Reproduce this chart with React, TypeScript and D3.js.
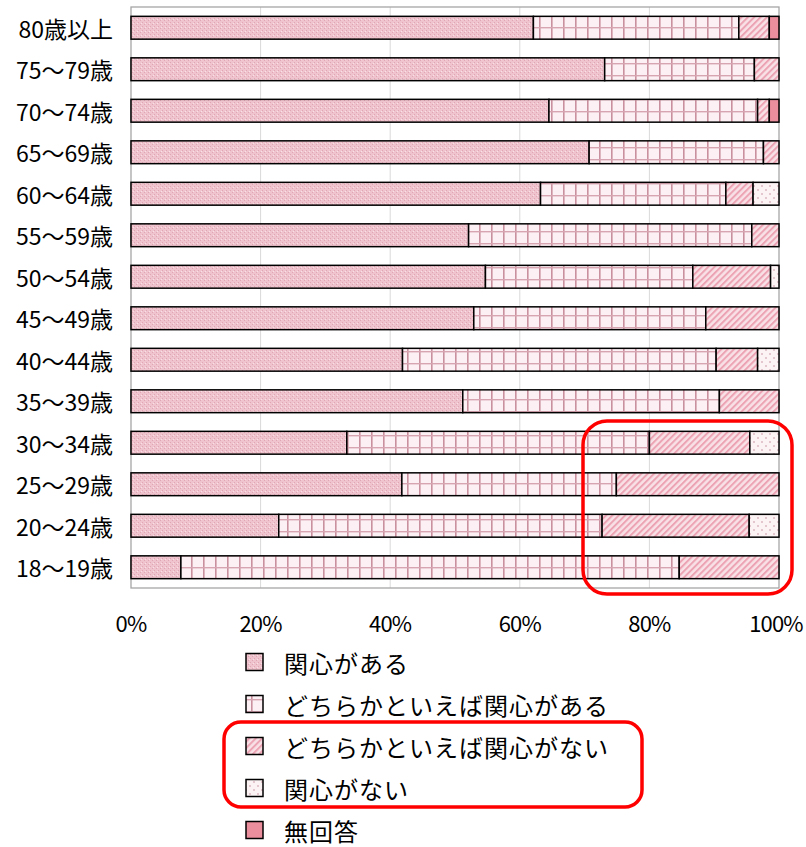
import React from "react";
import * as d3 from "d3";

const categories = [
  "80歳以上", "75～79歳", "70～74歳", "65～69歳", "60～64歳", "55～59歳", "50～54歳",
  "45～49歳", "40～44歳", "35～39歳", "30～34歳", "25～29歳", "20～24歳", "18～19歳",
];
const seriesNames = [
  "関心がある", "どちらかといえば関心がある", "どちらかといえば関心がない", "関心がない", "無回答",
];
const interested = [62.1, 73.1, 64.5, 70.7, 63.2, 52.1, 54.7, 52.9, 41.9, 51.2, 33.3, 41.8, 22.8, 7.7];
const somewhatInterested = [31.7, 23.1, 32.2, 26.9, 28.6, 43.7, 32.0, 35.8, 48.4, 39.6, 46.7, 33.1, 49.9, 76.9];
const somewhatNot = [4.7, 3.8, 1.8, 2.4, 4.2, 4.2, 12.0, 11.3, 6.4, 9.2, 15.5, 25.1, 22.7, 15.4];
const notInterested = [0, 0, 0, 0, 4.0, 0, 1.3, 0, 3.3, 0, 4.5, 0, 4.6, 0];
const noAnswer = [1.5, 0, 1.5, 0, 0, 0, 0, 0, 0, 0, 0, 0, 0, 0];
const tickValues = [0, 20, 40, 60, 80, 100];
const tickLabels = ["0%", "20%", "40%", "60%", "80%", "100%"];

const seriesValues = [interested, somewhatInterested, somewhatNot, notInterested, noAnswer];
const patternIds = ["p-int", "p-some", "p-somenot", "p-not", "p-na"];

const W = 806;
const H = 847;
const plot = { left: 131, right: 779, top: 7, bottom: 588 };
const FONT = "'Noto Sans CJK JP', 'Noto Sans', sans-serif";

export default function App() {
  const x = d3.scaleLinear().domain([0, 100]).range([plot.left, plot.right]);
  const y = d3
    .scaleBand<string>()
    .domain(categories)
    .range([plot.top, plot.bottom])
    .paddingInner(0.45)
    .paddingOuter(0.225);

  const rows = categories.map((c, i) => {
    let acc = 0;
    const segs = seriesValues.map((arr, s) => {
      const v = arr[i];
      const seg = { s, x0: acc, x1: acc + v };
      acc += v;
      return seg;
    });
    return { c, segs: segs.filter((g) => g.x1 - g.x0 > 0) };
  });

  const legendY = [662, 704, 746, 788, 830];

  return (
    <svg
      width={W}
      height={H}
      style={{ position: "absolute", left: 0, top: 0, background: "#fff" }}
      fontFamily={FONT}
    >
      <defs>
        <pattern id="p-int" width={4} height={4} patternUnits="userSpaceOnUse">
          <rect width={4} height={4} fill="#efc4ce" />
          <rect x={0} y={0} width={1} height={1} fill="#e0a6b4" />
          <rect x={2} y={2} width={1} height={1} fill="#e0a6b4" />
          <rect x={1} y={3} width={1} height={1} fill="#f9e0e6" />
        </pattern>
        <pattern id="p-some" width={12} height={12} patternUnits="userSpaceOnUse" x={plot.left} y={3}>
          <rect width={12} height={12} fill="#fdf0f4" />
          <rect x={0} y={0} width={1.6} height={12} fill="#c9919f" />
          <rect x={0} y={0} width={12} height={1.4} fill="#d7a5b2" />
        </pattern>
        <pattern id="p-somenot" width={4.5} height={4.5} patternUnits="userSpaceOnUse" patternTransform="rotate(45)">
          <rect width={4.5} height={4.5} fill="#f9e2e7" />
          <rect x={0} y={0} width={2} height={4.5} fill="#eca3b3" />
        </pattern>
        <pattern id="p-not" width={8} height={8} patternUnits="userSpaceOnUse">
          <rect width={8} height={8} fill="#fcf3f5" />
          <circle cx={2} cy={2} r={0.9} fill="#d9b1bb" />
          <circle cx={6} cy={6} r={0.9} fill="#d9b1bb" />
        </pattern>
        <pattern id="p-na" width={4} height={4} patternUnits="userSpaceOnUse">
          <rect width={4} height={4} fill="#ea8d9d" />
        </pattern>
      </defs>

      {/* gridlines */}
      {tickValues.slice(1, -1).map((t) => (
        <line key={t} x1={x(t)} x2={x(t)} y1={plot.top} y2={plot.bottom} stroke="#d9d9d9" strokeWidth={1} />
      ))}
      {/* frame */}
      <rect
        x={plot.left}
        y={plot.top}
        width={plot.right - plot.left}
        height={plot.bottom - plot.top}
        fill="none"
        stroke="#a6a6a6"
        strokeWidth={1.3}
      />

      {/* bars */}
      {rows.map((r) =>
        r.segs.map((g) => (
          <rect
            key={r.c + g.s}
            x={x(g.x0)}
            y={y(r.c)}
            width={x(g.x1) - x(g.x0)}
            height={y.bandwidth()}
            fill={`url(#${patternIds[g.s]})`}
            stroke="#000"
            strokeWidth={1.5}
          />
        ))
      )}

      {/* category labels */}
      {categories.map((c) => (
        <text
          key={c}
          x={113}
          y={(y(c) as number) + y.bandwidth() / 2}
          textAnchor="end"
          dominantBaseline="central"
          fontSize={23}
          fill="#000"
        >
          {c}
        </text>
      ))}

      {/* tick labels */}
      {tickValues.map((t, i) => (
        <text
          key={t}
          x={t === 100 ? x(t) - 3 : x(t)}
          y={622}
          textAnchor="middle"
          dominantBaseline="central"
          fontSize={22}
          letterSpacing={-0.8}
          fill="#000"
        >
          {tickLabels[i]}
        </text>
      ))}

      {/* legend */}
      {seriesNames.map((n, i) => (
        <g key={n}>
          <rect
            x={246}
            y={legendY[i] - 8.5}
            width={17}
            height={17}
            fill={`url(#${patternIds[i]})`}
            stroke="#000"
            strokeWidth={1.5}
          />
          <text x={284} y={legendY[i]} dominantBaseline="central" fontSize={24} letterSpacing={1} fill="#000">
            {n}
          </text>
        </g>
      ))}

      {/* annotation boxes */}
      <rect x={583} y={421} width={209} height={173} rx={24} fill="none" stroke="#ff0000" strokeWidth={3.5} />
      <rect x={224} y={722} width={418} height={85} rx={17} fill="none" stroke="#ff0000" strokeWidth={3.5} />
    </svg>
  );
}
